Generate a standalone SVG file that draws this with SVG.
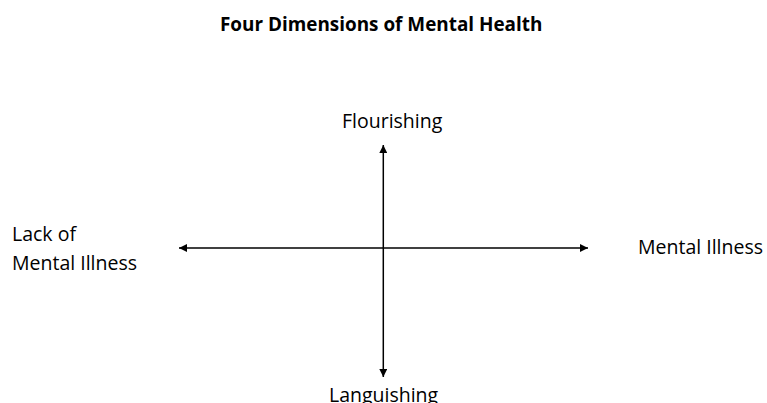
<svg xmlns="http://www.w3.org/2000/svg" width="767" height="403" viewBox="0 0 767 403">
<style>
text{font-family:"Open Sans","Noto Sans","DejaVu Sans",sans-serif;fill:#000}
.t{font-size:18.9px;font-weight:bold}
.l{font-size:19.5px}
.ax{stroke:#000;stroke-width:1.5;fill:none;marker-end:url(#ah)}
</style>
<defs>
<marker id="ah" viewBox="0 0 10 10" refX="10" refY="5" markerWidth="5.5" markerHeight="5.5" orient="auto" markerUnits="strokeWidth">
<path d="M0,0 L10,5 L0,10 z" fill="#000"/>
</marker>
</defs>
<rect width="767" height="403" fill="#fff"/>
<g id="title"><text class="t" x="220" y="31">Four Dimensions of Mental Health</text></g>
<g id="connectors">
<line class="ax" x1="383.3" y1="248" x2="383.3" y2="145"/>
<line class="ax" x1="383.3" y1="248" x2="383.3" y2="377"/>
<line class="ax" x1="383.3" y1="248" x2="179" y2="248"/>
<line class="ax" x1="383.3" y1="248" x2="588" y2="248"/>
</g>
<g id="flourishing"><text class="l" x="342" y="128">Flourishing</text></g>
<g id="lack"><text class="l" x="12" y="241">Lack of</text><text class="l" x="12" y="270">Mental Illness</text></g>
<g id="mental-illness"><text class="l" x="638" y="254">Mental Illness</text></g>
<g id="languishing"><text class="l" x="329" y="402">Languishing</text></g>
</svg>
